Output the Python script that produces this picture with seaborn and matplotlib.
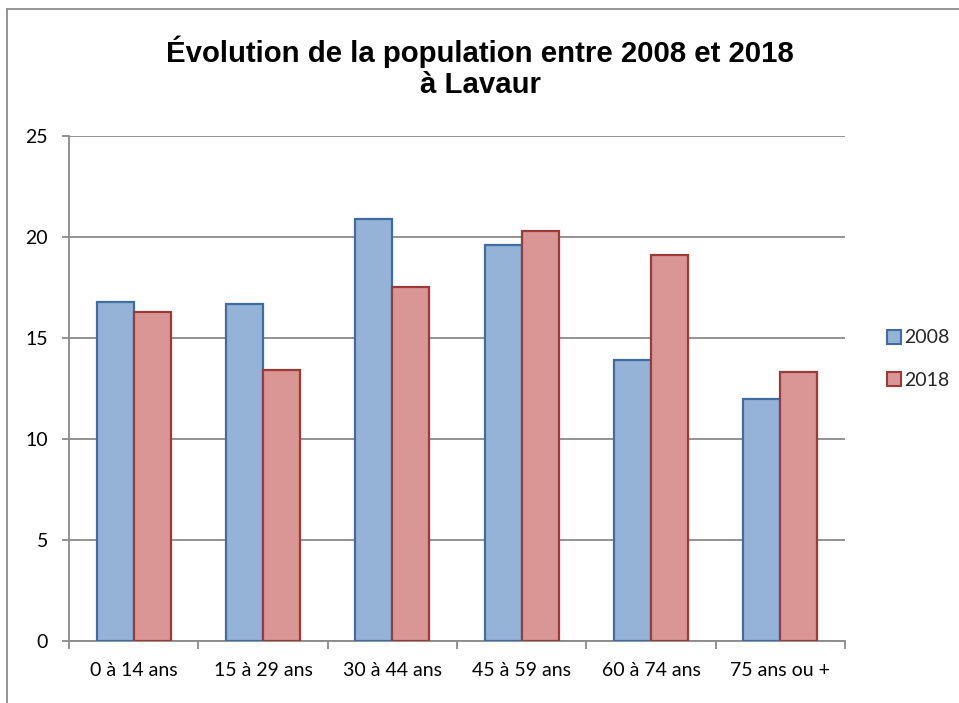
import matplotlib
matplotlib.use("Agg")
import matplotlib.pyplot as plt
import seaborn as sns
import pandas as pd
from matplotlib.lines import Line2D

categories = ["0 à 14 ans", "15 à 29 ans", "30 à 44 ans", "45 à 59 ans", "60 à 74 ans", "75 ans ou +"]
values_2008 = [16.8, 16.7, 20.9, 19.6, 13.9, 12.0]
values_2018 = [16.3, 13.4, 17.5, 20.3, 19.1, 13.3]
series = ["2008", "2018"]
y_ticks = [0, 5, 10, 15, 20, 25]
title_lines = ["Évolution de la population entre 2008 et 2018", "à Lavaur"]

df = pd.DataFrame({
    "cat": categories * 2,
    "val": values_2008 + values_2018,
    "year": [series[0]] * len(categories) + [series[1]] * len(categories),
})

sns.set_theme(style="white")
plt.rcParams["font.family"] = ["Lato", "DejaVu Sans"]

fills = {"2008": "#95B3D7", "2018": "#D99694"}
edges = {"2008": "#3E6CA3", "2018": "#9C3A38"}
grid_c = "#8A8A8A"

fig = plt.figure(figsize=(9.59, 7.03), dpi=100)
ax = fig.add_axes([69 / 959, 62 / 703, (845 - 69) / 959, (641 - 136) / 703])

sns.barplot(data=df, x="cat", y="val", hue="year", order=categories,
            hue_order=series, palette=fills, saturation=1, width=0.57, gap=0,
            linewidth=1.6, ax=ax, legend=False)

for cont, yr in zip(ax.containers, series):
    for bar in cont:
        bar.set_edgecolor(edges[yr])
        bar.set_facecolor(fills[yr])
        bar.set_linewidth(1.6)
        bar.set_zorder(3)

ax.set_ylim(0, 25)
ax.set_xlim(-0.5, len(categories) - 0.5)
ax.set_yticks(y_ticks)
ax.yaxis.grid(True, color=grid_c, linewidth=1.3, zorder=0)
ax.set_axisbelow(True)
ax.set_xlabel("")
ax.set_ylabel("")

for s in ["top", "right"]:
    ax.spines[s].set_visible(False)
for s in ["left", "bottom"]:
    ax.spines[s].set_color(grid_c)
    ax.spines[s].set_linewidth(1.3)

ax.tick_params(axis="y", which="major", length=5, width=1.3, color=grid_c,
               labelsize=14, pad=10, left=True)
ax.tick_params(axis="x", which="major", length=0, labelsize=14, pad=15)
ax.set_xticks([i - 0.5 for i in range(len(categories) + 1)], minor=True)
ax.tick_params(axis="x", which="minor", length=6, width=1.3, color=grid_c, bottom=True)
for lab in ax.get_xticklabels() + ax.get_yticklabels():
    lab.set_color("#000000")

for line, yb in zip(title_lines, [62, 93]):
    fig.text(480 / 959, 1 - yb / 703, line, ha="center", va="baseline",
             fontsize=21.2, fontweight="bold", family=["Liberation Sans", "DejaVu Sans"],
             color="#000000")

handles = [Line2D([0], [0], marker="s", linestyle="none", markersize=9.5,
                  markerfacecolor=fills[y], markeredgecolor=edges[y], markeredgewidth=1.5)
           for y in series]
fig.legend(handles, series, loc="center left", bbox_to_anchor=(875 / 959, 1 - 359 / 703),
           frameon=False, fontsize=14, handletextpad=0.0, labelspacing=1.3,
           handlelength=1.0, borderpad=0)

# outer chart border
fig.add_artist(Line2D([7 / 959, 7 / 959], [0, 1 - 9 / 703], transform=fig.transFigure,
                      color="#8C8C8C", linewidth=1.3))
fig.add_artist(Line2D([7 / 959, 1], [1 - 9 / 703, 1 - 9 / 703], transform=fig.transFigure,
                      color="#8C8C8C", linewidth=1.3))

fig.savefig("out.png", dpi=100)
